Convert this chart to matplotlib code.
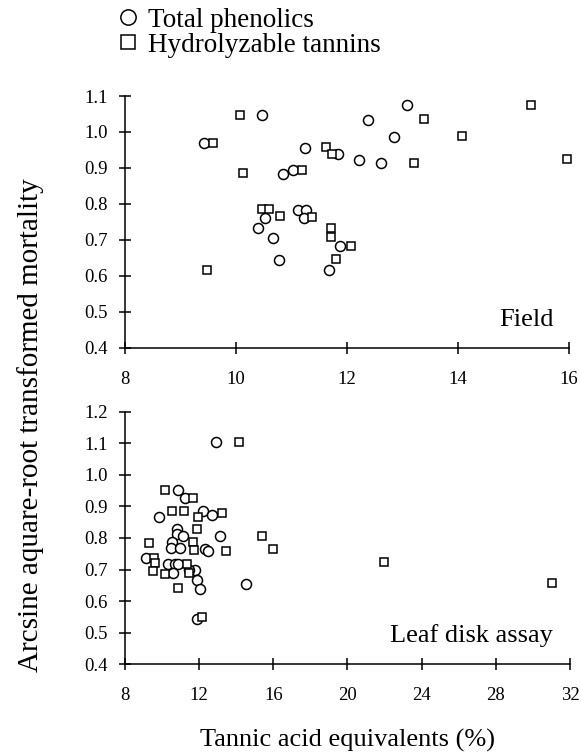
import matplotlib
matplotlib.use("Agg")
import matplotlib.pyplot as plt
from matplotlib.lines import Line2D

plt.rcParams['font.family'] = ['Liberation Serif', 'DejaVu Serif']

# Field panel
field_tp_x = [9.42, 10.47, 11.25, 11.02, 10.84, 11.12, 11.27, 11.23, 10.52, 10.40, 10.67, 10.77,
              11.68, 11.87, 11.84, 12.22, 12.61, 12.37, 12.85, 13.09]
field_tp_y = [0.970, 1.046, 0.955, 0.894, 0.883, 0.783, 0.783, 0.760, 0.762, 0.733, 0.706, 0.644,
              0.615, 0.683, 0.939, 0.922, 0.913, 1.033, 0.987, 1.074]
field_ht_x = [9.59, 10.07, 10.12, 9.47, 10.47, 10.59, 10.80, 11.19, 11.37, 11.63, 11.73, 11.71,
              11.72, 11.81, 12.08, 13.39, 14.07, 13.20, 15.32, 15.97]
field_ht_y = [0.969, 1.046, 0.885, 0.615, 0.785, 0.785, 0.765, 0.894, 0.763, 0.957, 0.938, 0.734,
              0.708, 0.647, 0.683, 1.035, 0.989, 0.915, 1.076, 0.926]

# Leaf disk assay panel
leaf_tp_x = [12.91, 10.84, 11.24, 9.82, 12.22, 12.71, 10.79, 10.79, 11.14, 13.15, 10.52, 10.48,
             10.97, 12.31, 12.49, 9.12, 10.34, 10.70, 10.84, 11.77, 10.57, 11.87, 12.05, 14.51,
             11.90, 11.45]
leaf_tp_y = [1.105, 0.952, 0.926, 0.868, 0.884, 0.873, 0.830, 0.812, 0.805, 0.806, 0.786, 0.769,
             0.767, 0.765, 0.760, 0.736, 0.717, 0.717, 0.717, 0.699, 0.689, 0.668, 0.638, 0.655,
             0.544, 0.700]
leaf_ht_x = [14.15, 10.16, 11.69, 10.55, 11.20, 11.92, 13.25, 11.87, 9.31, 11.69, 11.74, 13.45,
             15.41, 16.00, 9.58, 9.62, 9.53, 10.16, 11.33, 11.44, 10.88, 12.17, 21.97, 31.05]
leaf_ht_y = [1.105, 0.952, 0.926, 0.886, 0.886, 0.868, 0.878, 0.829, 0.784, 0.786, 0.762, 0.760,
             0.807, 0.766, 0.736, 0.722, 0.697, 0.686, 0.717, 0.689, 0.641, 0.549, 0.723, 0.657]

top_xticks = [8, 10, 12, 14, 16]
top_yticks = [0.4, 0.5, 0.6, 0.7, 0.8, 0.9, 1.0, 1.1]
bot_xticks = [8, 12, 16, 20, 24, 28, 32]
bot_yticks = [0.4, 0.5, 0.6, 0.7, 0.8, 0.9, 1.0, 1.1, 1.2]

W, H = 581, 754
fig = plt.figure(figsize=(W / 100, H / 100), dpi=100)
ax1 = fig.add_axes([125 / W, 1 - 347.7 / H, 444 / W, 251.7 / H])
ax2 = fig.add_axes([125 / W, 1 - 664.3 / H, 445 / W, 252.6 / H])

mk = dict(linestyle='none', markerfacecolor='white', markeredgecolor='black', markeredgewidth=1.1)

def style(ax, xt, yt, xl, yl):
    for s in ['top', 'right']:
        ax.spines[s].set_visible(False)
    for s in ['left', 'bottom']:
        ax.spines[s].set_linewidth(1.1)
    ax.set_xlim(*xl)
    ax.set_ylim(*yl)
    ax.set_xticks(xt)
    ax.set_yticks(yt)
    ax.set_xticklabels([str(v) for v in xt])
    ax.set_yticklabels([f"{v:.1f}" for v in yt])
    ax.tick_params(direction='inout', length=9, width=1.1, labelsize=13.5)
    ax.tick_params(axis='y', pad=8)
    ax.tick_params(axis='x', pad=12)
    for sp in ax.spines.values():
        sp.set_clip_on(False)

ax1.plot(field_tp_x, field_tp_y, marker='o', markersize=7.2, **mk, clip_on=False)
ax1.plot(field_ht_x, field_ht_y, marker='s', markersize=6.0, **mk, clip_on=False)
style(ax1, top_xticks, top_yticks, (8, 16), (0.4, 1.1))
ax1.text(15.73, 0.46, 'Field', ha='right', va='baseline', fontsize=19)

ax2.plot(leaf_tp_x, leaf_tp_y, marker='o', markersize=7.2, **mk, clip_on=False)
ax2.plot(leaf_ht_x, leaf_ht_y, marker='s', markersize=6.0, **mk, clip_on=False)
style(ax2, bot_xticks, bot_yticks, (8, 32), (0.4, 1.2))
ax2.text(31.08, 0.472, 'Leaf disk assay', ha='right', va='baseline', fontsize=19)

fig.text(348 / W, 1 - 740 / H, 'Tannic acid equivalents (%)', ha='center', va='center', fontsize=19)

fig.text(31 / W, 1 - 425 / H, 'Arcsine aquare-root transformed mortality',
         rotation=90, ha='center', va='center', fontsize=21)

handles = [Line2D([], [], marker='o', markersize=11, **mk),
           Line2D([], [], marker='s', markersize=10.5, **mk)]
fig.legend(handles, ['Total phenolics', 'Hydrolyzable tannins'], loc='upper left',
           bbox_to_anchor=(105 / W, 1 + 3 / H), frameon=False, fontsize=19.5,
           handlelength=0.9, handletextpad=0.3, labelspacing=0.0, borderaxespad=0)

fig.savefig('out.png', dpi=100)
